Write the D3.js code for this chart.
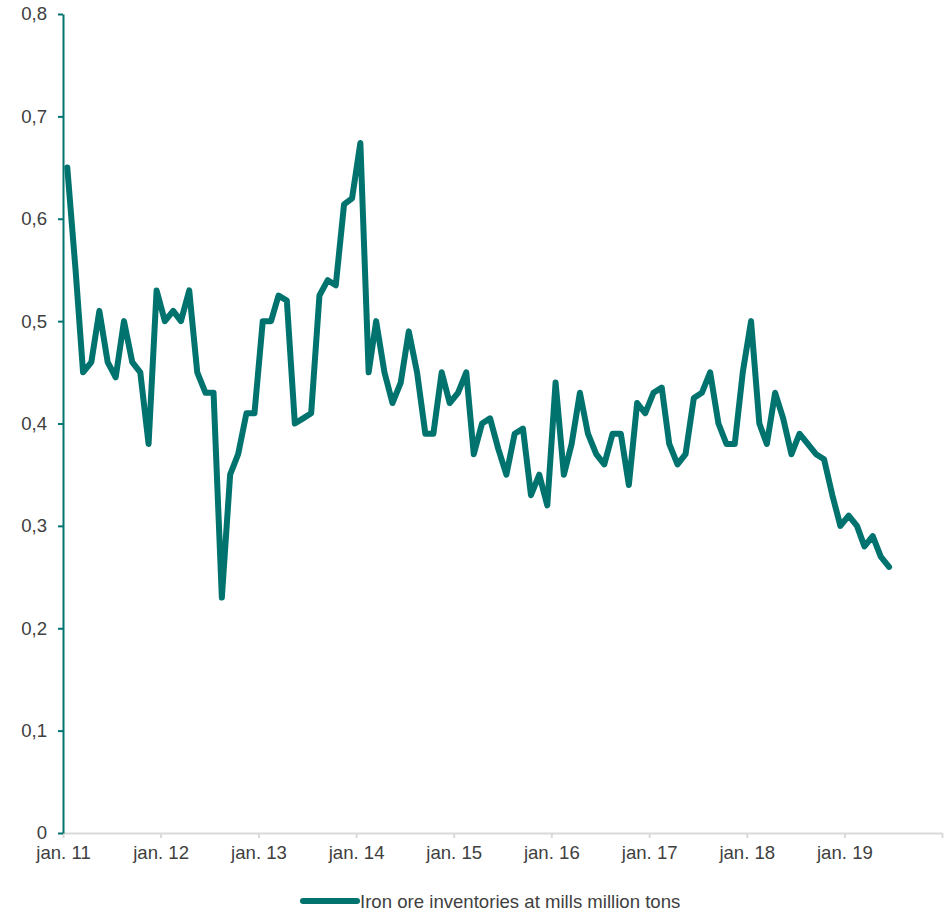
<!DOCTYPE html>
<html>
<head>
<meta charset="utf-8">
<script src="https://cdn.jsdelivr.net/npm/d3@7"></script>
<style>
  body { margin: 0; background: #fff; }
  #div_chart { width: 945px; height: 911px; }
</style>
</head>
<body>
<div id="div_chart"></div>
<script>
// Monthly series, Jan 2011 - Jun 2019 (million tons)
const inventories = [
  0.65, 0.55, 0.45, 0.46, 0.51, 0.46, 0.445, 0.50, 0.46, 0.45, 0.38, 0.53,
  0.50, 0.51, 0.50, 0.53, 0.45, 0.43, 0.43, 0.23, 0.35, 0.37, 0.41, 0.41,
  0.50, 0.50, 0.525, 0.52, 0.40, 0.405, 0.41, 0.525, 0.54, 0.535, 0.614, 0.62,
  0.674, 0.45, 0.50, 0.45, 0.42, 0.44, 0.49, 0.45, 0.39, 0.39, 0.45, 0.42,
  0.43, 0.45, 0.37, 0.40, 0.405, 0.375, 0.35, 0.39, 0.395, 0.33, 0.35, 0.32,
  0.44, 0.35, 0.38, 0.43, 0.39, 0.37, 0.36, 0.39, 0.39, 0.34, 0.42, 0.41,
  0.43, 0.435, 0.38, 0.36, 0.37, 0.425, 0.43, 0.45, 0.40, 0.38, 0.38, 0.45,
  0.50, 0.40, 0.38, 0.43, 0.405, 0.37, 0.39, 0.38, 0.37, 0.365, 0.33, 0.30,
  0.31, 0.30, 0.28, 0.29, 0.27, 0.26
];
const yTicks = [0, 0.1, 0.2, 0.3, 0.4, 0.5, 0.6, 0.7, 0.8];
const xLabels = ["jan. 11", "jan. 12", "jan. 13", "jan. 14", "jan. 15", "jan. 16", "jan. 17", "jan. 18", "jan. 19", ""];
const seriesName = "Iron ore inventories at mills million tons";

// Basic size information
var svgWidth = 945;
var svgHeight = 911;
var margin = {top: 14, right: 3, bottom: 78, left: 63};
const teal = "#00736F";
const textColor = "#404040";

// Mid-month dates for each observation
const months = d3.timeMonth.range(new Date(2011, 0, 1), new Date(2011, inventories.length, 1))
    .map(d => new Date(d.getFullYear(), d.getMonth(), 17));
const data = months.map((d, i) => ({date: d, value: inventories[i]}));

var x = d3.scaleTime()
    .domain([new Date(2011, 0, 1), new Date(2020, 0, 1)])
    .range([margin.left, svgWidth - margin.right]);

var y = d3.scaleLinear()
    .domain([0, 0.8])
    .range([svgHeight - margin.bottom, margin.top]);

var svg = d3.select("#div_chart")
    .append("svg")
        .attr("width", svgWidth)
        .attr("height", svgHeight)
        .style("font-family", "'Liberation Sans', Arial, sans-serif");

// X axis (light grey)
const yearTicks = d3.timeYear.range(new Date(2011, 0, 1), new Date(2020, 0, 2));
const xAxis = svg.append("g")
    .attr("transform", "translate(0," + y(0) + ")")
    .call(d3.axisBottom(x)
        .tickValues(yearTicks)
        .tickSize(5)
        .tickSizeOuter(0)
        .tickFormat((d, i) => xLabels[i]));
xAxis.select(".domain").attr("stroke", "#d9d9d9").attr("stroke-width", 2);
xAxis.selectAll(".tick line").attr("stroke", "#d9d9d9").attr("stroke-width", 2);
xAxis.selectAll(".tick text")
    .attr("fill", textColor)
    .attr("y", 13)
    .style("font-size", "18.6px");

// Y axis (teal)
const yAxis = svg.append("g")
    .attr("transform", "translate(" + margin.left + ",0)")
    .call(d3.axisLeft(y)
        .tickValues(yTicks)
        .tickSize(5)
        .tickSizeOuter(0)
        .tickFormat(d => d === 0 ? "0" : d3.format(".1f")(d).replace(".", ",")));
yAxis.select(".domain").attr("stroke", teal).attr("stroke-width", 2);
yAxis.selectAll(".tick line").attr("stroke", teal).attr("stroke-width", 2);
yAxis.selectAll(".tick text")
    .attr("fill", textColor)
    .attr("x", -16)
    .style("font-size", "18.6px");

// Series line
var line = d3.line()
    .x(d => x(d.date))
    .y(d => y(d.value));

svg.append("path")
    .datum(data)
    .attr("fill", "none")
    .attr("stroke", teal)
    .attr("stroke-width", 6)
    .attr("stroke-linejoin", "round")
    .attr("stroke-linecap", "round")
    .attr("d", line);

// Legend
const legend = svg.append("g").attr("transform", "translate(303,901)");
legend.append("line")
    .attr("x1", 0).attr("x2", 54)
    .attr("y1", 0).attr("y2", 0)
    .attr("stroke", teal)
    .attr("stroke-width", 6)
    .attr("stroke-linecap", "round");
legend.append("text")
    .attr("x", 57)
    .attr("dy", "0.35em")
    .attr("fill", textColor)
    .style("font-size", "18.6px")
    .text(seriesName);
</script>
</body>
</html>
